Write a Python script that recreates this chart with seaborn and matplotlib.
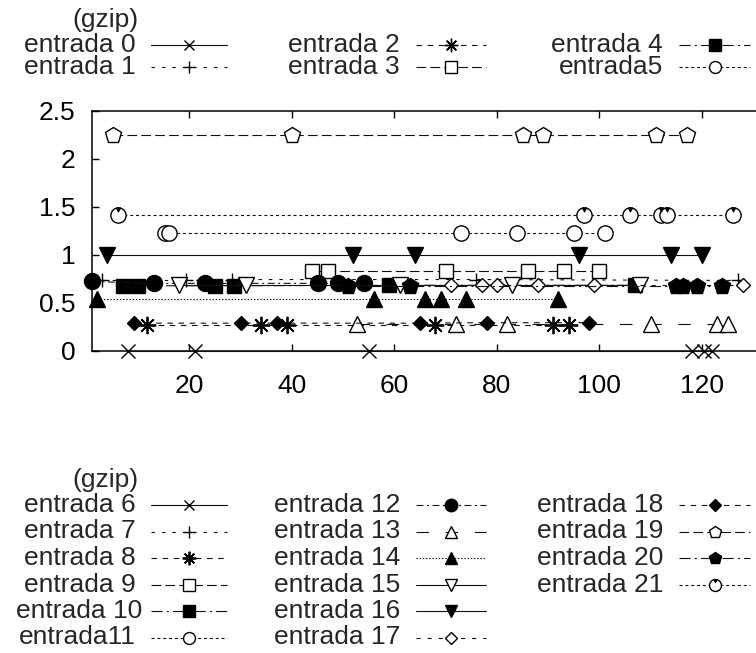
import matplotlib
matplotlib.use("Agg")
import matplotlib.pyplot as plt
import seaborn as sns
import pandas as pd
from matplotlib.path import Path
from matplotlib.markers import MarkerStyle

# ---------------- data ----------------
key_title = "(gzip)"
labels_top = ["entrada 0", "entrada 1", "entrada 2", "entrada 3", "entrada 4", "entrada5"]
labels_bottom = ["entrada 6", "entrada 7", "entrada 8", "entrada 9", "entrada 10", "entrada11",
                 "entrada 12", "entrada 13", "entrada 14", "entrada 15", "entrada 16", "entrada 17",
                 "entrada 18", "entrada 19", "entrada 20", "entrada 21"]

x_e6 = [8, 21, 55, 118, 120.5, 122]
y_e6 = [0, 0, 0, 0, 0, 0]
x_e7 = [3, 19.3, 28.3, 76, 127]
y_e7 = [0.73, 0.73, 0.74, 0.74, 0.73]
x_e8 = [11.7, 34, 39, 68, 91, 94]
y_e8 = [0.27, 0.27, 0.27, 0.27, 0.27, 0.27]
x_e9 = [44, 47, 70, 86, 93, 100]
y_e9 = [0.83, 0.83, 0.83, 0.83, 0.83, 0.83]
x_e10 = [7, 10, 25, 28.7, 59, 107]
y_e10 = [0.675, 0.675, 0.675, 0.675, 0.68, 0.68]
x_e11 = [15.2, 16, 73, 84, 95, 101]
y_e11 = [1.23, 1.23, 1.23, 1.23, 1.23, 1.23]
x_e12 = [1, 13, 23, 45, 49, 54]
y_e12 = [0.72, 0.70, 0.70, 0.70, 0.70, 0.70]
x_e13 = [52.7, 72, 82, 110, 123, 125]
y_e13 = [0.28, 0.28, 0.28, 0.28, 0.28, 0.28]
x_e14 = [2, 56, 66, 69, 74, 92]
y_e14 = [0.54, 0.54, 0.54, 0.54, 0.54, 0.54]
x_e15 = [18, 31, 61, 83, 108]
y_e15 = [0.68, 0.68, 0.68, 0.68, 0.68]
x_e16 = [4, 52, 64, 96, 114, 120]
y_e16 = [1.0, 1.0, 1.0, 1.0, 1.0, 1.0]
x_e17 = [71, 77, 80, 88, 99, 128]
y_e17 = [0.68, 0.68, 0.68, 0.68, 0.68, 0.68]
x_e18 = [9.2, 30, 37, 65, 78, 98]
y_e18 = [0.285, 0.285, 0.285, 0.285, 0.29, 0.29]
x_e19 = [5, 40, 85, 89, 111, 117]
y_e19 = [2.25, 2.25, 2.25, 2.25, 2.25, 2.25]
x_e20 = [51, 63, 115, 116.3, 119, 124]
y_e20 = [0.67, 0.67, 0.67, 0.67, 0.67, 0.67]
x_e21 = [6, 97, 106, 112, 113.2, 126]
y_e21 = [1.41, 1.41, 1.41, 1.41, 1.41, 1.41]

x_ticks = [20, 40, 60, 80, 100, 120]
y_ticks = [0, 0.5, 1, 1.5, 2, 2.5]
y_tick_labels = ["0", "0.5", "1", "1.5", "2", "2.5"]

series = {
    6: (x_e6, y_e6), 7: (x_e7, y_e7), 8: (x_e8, y_e8), 9: (x_e9, y_e9),
    10: (x_e10, y_e10), 11: (x_e11, y_e11), 12: (x_e12, y_e12), 13: (x_e13, y_e13),
    14: (x_e14, y_e14), 15: (x_e15, y_e15), 16: (x_e16, y_e16), 17: (x_e17, y_e17),
    18: (x_e18, y_e18), 19: (x_e19, y_e19), 20: (x_e20, y_e20), 21: (x_e21, y_e21),
}

# ---------------- styles ----------------
sns.set_style("ticks")
plt.rcParams["font.family"] = ["Liberation Sans", "DejaVu Sans"]
plt.rcParams["lines.scale_dashes"] = False

FS = 19
LW = 0.8
clock_tri = MarkerStyle(Path([(-0.32, 1.0), (0.32, 1.0), (0.0, 0.42), (-0.32, 1.0)]))
asterisk = (8, 2, 0)

# marker, filled, linestyle, plot markersize
style = {
    6: ("x", False, "-", 9.5),
    7: ("+", False, (0, (2.5, 5)), 10.5),
    8: (asterisk, False, (0, (4, 4)), 12.5),
    9: ("s", False, (0, (7, 3)), 10.5),
    10: ("s", True, (0, (8, 3, 1.5, 3)), 10.5),
    11: ("o", False, (0, (2.2, 2)), 11),
    12: ("o", True, (0, (5, 2.5, 1.5, 2.5)), 11.5),
    13: ("^", False, (0, (9, 12)), 11),
    14: ("^", True, (0, (1, 1.3)), 11),
    15: ("v", False, "-", 11),
    16: ("v", True, "-", 11),
    17: ("D", False, (0, (3, 5)), 7.5),
    18: ("D", True, (0, (4, 4)), 7.5),
    19: ("p", False, (0, (7, 3)), 12),
    20: ("p", True, (0, (8, 3, 1.5, 3)), 12),
    21: ("o", False, (0, (2.2, 2)), 11),
}
for k in range(6):
    style[k] = style[k + 6]

LINE_COLOR = "#111111"

fig = plt.figure(figsize=(7.56, 6.53), dpi=100)
W, H = 756, 653
ax_l, ax_r, ax_t, ax_b = 92, 763.4, 110.7, 350.5
ax = fig.add_axes([ax_l / W, 1 - ax_b / H, (ax_r - ax_l) / W, (ax_b - ax_t) / H])
ax.set_facecolor("white")

for k in range(6, 22):
    xs, ys = series[k]
    mk, filled, ls, ms = style[k]
    df = pd.DataFrame({"x": xs, "y": ys})
    sns.lineplot(data=df, x="x", y="y", ax=ax, estimator=None, sort=True, errorbar=None,
                 color=LINE_COLOR, linestyle=ls, linewidth=LW, marker=mk, markersize=ms,
                 markerfacecolor=("black" if filled else "white"),
                 markeredgecolor="black", markeredgewidth=(1.3 if k == 8 else 1.0),
                 clip_on=False, zorder=3)
    if k == 21:
        sns.lineplot(data=df, x="x", y="y", ax=ax, estimator=None, sort=True, errorbar=None,
                     linestyle="none", marker=clock_tri, markersize=ms,
                     markerfacecolor="black", markeredgecolor="black",
                     markeredgewidth=0.5, clip_on=False, zorder=4)

ax.set_xlim(1, 132)
ax.set_ylim(0, 2.5)
ax.set_xticks(x_ticks)
ax.set_xticklabels([str(v) for v in x_ticks])
ax.set_yticks(y_ticks)
ax.set_yticklabels(y_tick_labels)
ax.set_xlabel("")
ax.set_ylabel("")
ax.tick_params(axis="both", direction="in", length=5, width=1, top=True, right=True,
               labelsize=FS, colors="black")
ax.tick_params(axis="x", pad=17)
ax.tick_params(axis="y", pad=12)
for sp in ax.spines.values():
    sp.set_visible(True)
    sp.set_linewidth(1.1)
    sp.set_color("black")

# ---------------- gnuplot-style keys ----------------
kax = fig.add_axes([0, 0, 1, 1])
kax.set_xlim(0, W)
kax.set_ylim(H, 0)
kax.axis("off")
kax.patch.set_visible(False)

col_right = [136, 400, 663]
col_sample = [(151, 227), (416, 486), (679, 750)]


def draw_key(labels, first_idx, title_y, row0_y, spacing, nrows):
    kax.text(col_right[0] + 3, title_y, key_title, ha="right", va="center", fontsize=FS)
    for i, lab in enumerate(labels):
        c, r = divmod(i, nrows)
        y = row0_y + r * spacing
        shift = 6 if (c == 0 and len(lab) >= 10) else 0
        kax.text(col_right[c] + shift, y, lab, ha="right", va="center", fontsize=FS)
        mk, filled, ls, ms = style[first_idx + i]
        x0, x1 = col_sample[c]
        kax.plot([x0, x1], [y, y], color=LINE_COLOR, linestyle=ls, linewidth=LW)
        kax.plot([(x0 + x1) / 2], [y], linestyle="none", marker=mk, markersize=ms * 0.78,
                 markerfacecolor=("black" if filled else "white"),
                 markeredgecolor="black",
                 markeredgewidth=(1.3 if (first_idx + i) % 10 == 8 and mk == asterisk else 1.0))
        if first_idx + i == 21:
            kax.plot([(x0 + x1) / 2], [y], linestyle="none", marker=clock_tri,
                     markersize=ms * 0.78, markerfacecolor="black",
                     markeredgecolor="black", markeredgewidth=0.5)


draw_key(labels_top, 0, 20, 45, 22, 2)
draw_key(labels_bottom, 6, 480, 505, 26.5, 6)

fig.savefig("out.png", dpi=100)
